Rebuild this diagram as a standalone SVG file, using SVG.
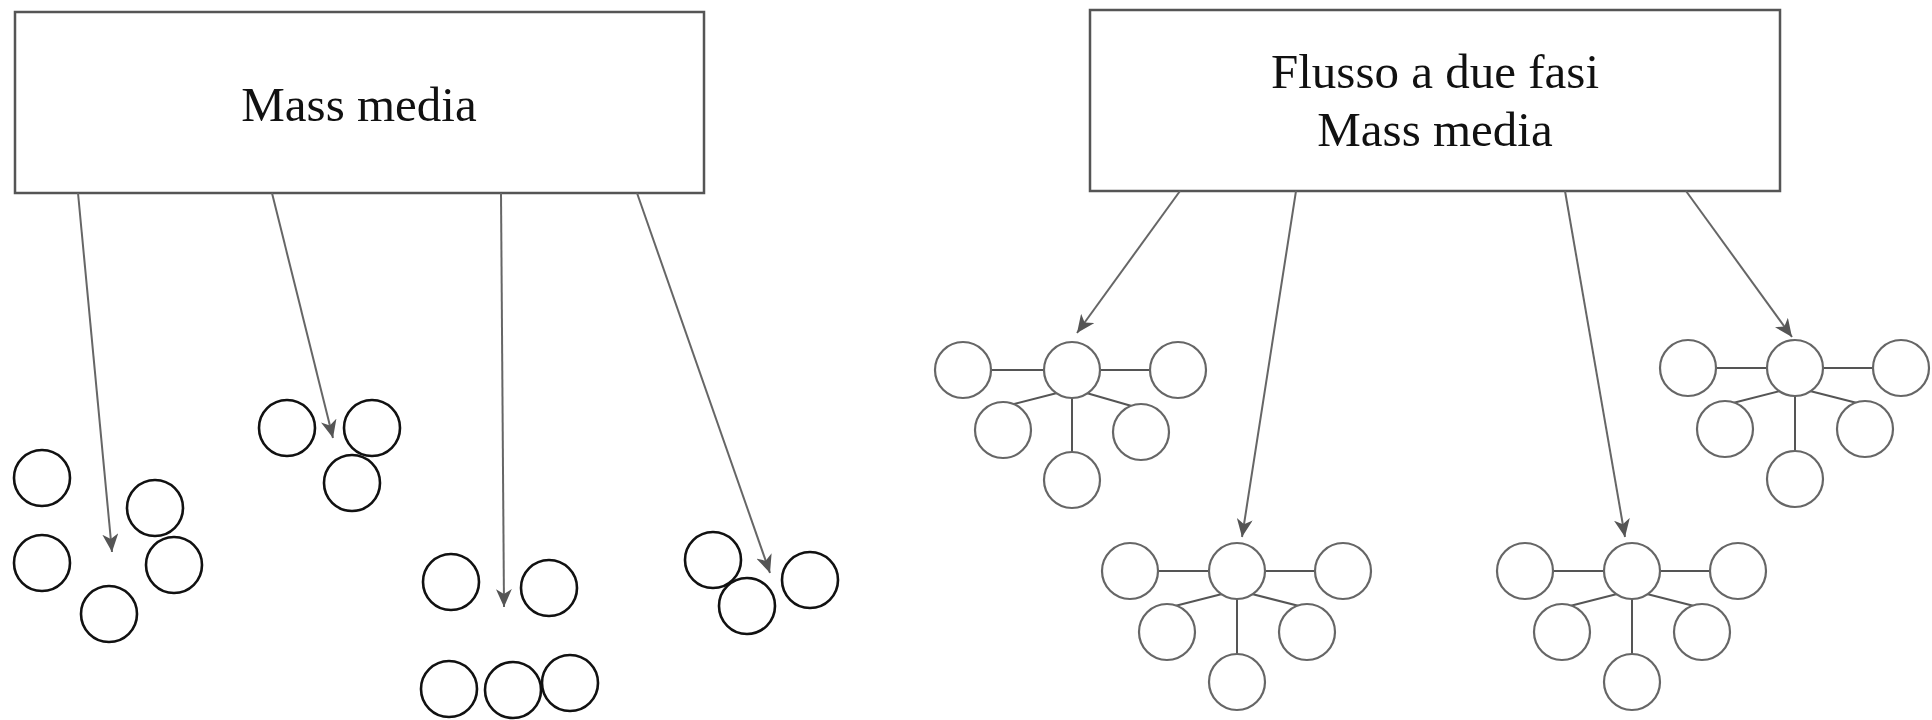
<svg xmlns="http://www.w3.org/2000/svg" xmlns:xlink="http://www.w3.org/1999/xlink" width="1932" height="720" viewBox="0 0 1932 720">
<style>
.box{fill:#fff;stroke:#555;stroke-width:2.5}
.lbl{font-family:"Liberation Serif","Times New Roman",serif;font-size:49px;fill:#111;text-anchor:middle}
.arrow{stroke:#666;stroke-width:2;fill:none;marker-end:url(#ah)}
.p{fill:#fff;stroke:#111;stroke-width:2.6}
.q{fill:#fff;stroke:#666;stroke-width:2.2}
.link{stroke:#555;stroke-width:2;fill:none}
</style>
<defs>
<marker id="ah" markerUnits="userSpaceOnUse" markerWidth="18" markerHeight="16" refX="18" refY="8" orient="auto">
<path d="M0,0 L18,8 L0,16 L5,8 z" fill="#555"/>
</marker>
</defs>
<rect width="1932" height="720" fill="#fff"/>

<g id="box-left">
<rect class="box" x="15" y="12" width="689" height="181"/>
<text class="lbl" x="359" y="121">Mass media</text>
</g>
<g id="box-right">
<rect class="box" x="1090" y="10" width="690" height="181"/>
<text class="lbl" x="1435" y="88">Flusso a due fasi</text>
<text class="lbl" x="1435" y="146">Mass media</text>
</g>

<g id="connectors">
<line class="arrow" x1="78" y1="193" x2="112" y2="552"/>
<line class="arrow" x1="272" y1="193" x2="333" y2="438"/>
<line class="arrow" x1="501" y1="193" x2="504" y2="607"/>
<line class="arrow" x1="637" y1="193" x2="770" y2="573"/>
<line class="arrow" x1="1180" y1="191" x2="1077" y2="333"/>
<line class="arrow" x1="1296" y1="191" x2="1242" y2="537"/>
<line class="arrow" x1="1565" y1="191" x2="1625" y2="537"/>
<line class="arrow" x1="1686" y1="191" x2="1792" y2="337"/>
<g id="links-a" transform="translate(1072,370)">
<path class="link" d="M-20,0H-90M20,0H88M-11,22L-70,37M11,22L70,39M0,20V92"/>
</g>
<g id="links-b" transform="translate(1237,571)">
<path class="link" d="M-20,0H-90M20,0H88M-11,22L-70,37M11,22L70,37M0,20V92"/>
</g>
<g id="links-c" transform="translate(1632,571)">
<path class="link" d="M-20,0H-90M20,0H88M-11,22L-70,37M11,22L70,37M0,20V92"/>
</g>
<g id="links-d" transform="translate(1795,368)">
<path class="link" d="M-20,0H-90M20,0H88M-11,22L-70,37M11,22L70,37M0,20V92"/>
</g>
</g>

<g id="group-1">
<circle class="p" cx="42" cy="478" r="28"/>
<circle class="p" cx="155" cy="508" r="28"/>
<circle class="p" cx="42" cy="563" r="28"/>
<circle class="p" cx="174" cy="565" r="28"/>
<circle class="p" cx="109" cy="614" r="28"/>
</g>
<g id="group-2">
<circle class="p" cx="287" cy="428" r="28"/>
<circle class="p" cx="372" cy="428" r="28"/>
<circle class="p" cx="352" cy="483" r="28"/>
</g>
<g id="group-3">
<circle class="p" cx="451" cy="582" r="28"/>
<circle class="p" cx="549" cy="588" r="28"/>
<circle class="p" cx="449" cy="689" r="28"/>
<circle class="p" cx="513" cy="690" r="28"/>
<circle class="p" cx="570" cy="683" r="28"/>
</g>
<g id="group-4">
<circle class="p" cx="713" cy="560" r="28"/>
<circle class="p" cx="747" cy="606" r="28"/>
<circle class="p" cx="810" cy="580" r="28"/>
</g>

<g id="cluster-a" transform="translate(1072,370)">
<circle class="q" cx="0" cy="0" r="28"/>
<circle class="q" cx="-109" cy="0" r="28"/>
<circle class="q" cx="106" cy="0" r="28"/>
<circle class="q" cx="-69" cy="60" r="28"/>
<circle class="q" cx="69" cy="62" r="28"/>
<circle class="q" cx="0" cy="110" r="28"/>
</g>
<g id="cluster-b" transform="translate(1237,571)">
<circle class="q" cx="0" cy="0" r="28"/>
<circle class="q" cx="-107" cy="0" r="28"/>
<circle class="q" cx="106" cy="0" r="28"/>
<circle class="q" cx="-70" cy="61" r="28"/>
<circle class="q" cx="70" cy="61" r="28"/>
<circle class="q" cx="0" cy="111" r="28"/>
</g>
<g id="cluster-c" transform="translate(1632,571)">
<circle class="q" cx="0" cy="0" r="28"/>
<circle class="q" cx="-107" cy="0" r="28"/>
<circle class="q" cx="106" cy="0" r="28"/>
<circle class="q" cx="-70" cy="61" r="28"/>
<circle class="q" cx="70" cy="61" r="28"/>
<circle class="q" cx="0" cy="111" r="28"/>
</g>
<g id="cluster-d" transform="translate(1795,368)">
<circle class="q" cx="0" cy="0" r="28"/>
<circle class="q" cx="-107" cy="0" r="28"/>
<circle class="q" cx="106" cy="0" r="28"/>
<circle class="q" cx="-70" cy="61" r="28"/>
<circle class="q" cx="70" cy="61" r="28"/>
<circle class="q" cx="0" cy="111" r="28"/>
</g>
</svg>
